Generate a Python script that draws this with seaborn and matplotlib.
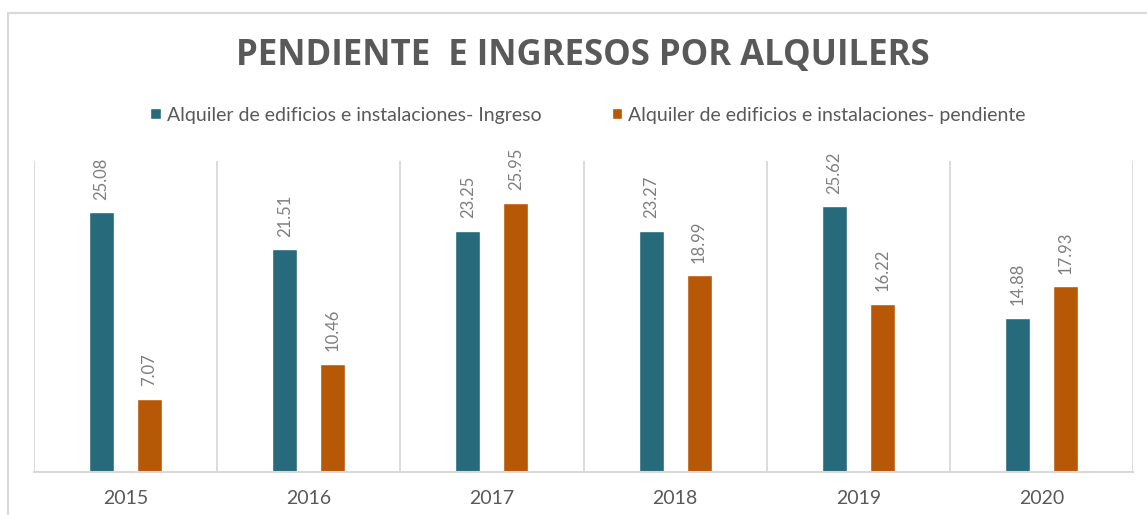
import matplotlib
matplotlib.use("Agg")
import matplotlib.pyplot as plt
from matplotlib.patches import Rectangle
import seaborn as sns
import pandas as pd

years = ["2015", "2016", "2017", "2018", "2019", "2020"]
series_names = ["Alquiler de edificios e instalaciones- Ingreso",
                "Alquiler de edificios e instalaciones- pendiente"]
ingreso = [25.08, 21.51, 23.25, 23.27, 25.62, 14.88]
pendiente = [7.07, 10.46, 25.95, 18.99, 16.22, 17.93]
title = "PENDIENTE  E INGRESOS POR ALQUILERS"

df = pd.DataFrame({
    "year": years * 2,
    "serie": [series_names[0]] * len(years) + [series_names[1]] * len(years),
    "value": ingreso + pendiente,
})

sns.set_theme(style="white")
plt.rcParams["font.family"] = ["Lato", "DejaVu Sans"]

W, H = 1147, 515
fig = plt.figure(figsize=(W / 100, H / 100), dpi=100)
ax = fig.add_axes([34 / W, 43 / H, (1133 - 34) / W, (472 - 161) / H])

palette = {series_names[0]: "#276A7B", series_names[1]: "#B75807"}
sns.barplot(data=df, x="year", y="value", hue="serie", order=years,
            hue_order=series_names, palette=palette, width=0.524, gap=0.48,
            saturation=1, ax=ax, legend=True)

ax.set_ylim(0, 30)
ax.set_xlim(-0.5, len(years) - 0.5)
for c in ax.containers:
    ax.bar_label(c, fmt="%.2f", rotation=90, padding=9, color="#7F7F7F", fontsize=12)

grid_c = "#D9D9D9"
for i in range(len(years) + 1):
    ax.axvline(i - 0.5, color=grid_c, lw=1.3, zorder=0)
for s in ["top", "right", "left"]:
    ax.spines[s].set_visible(False)
ax.spines["bottom"].set_color(grid_c)
ax.spines["bottom"].set_linewidth(1.5)
ax.set_yticks([])
ax.set_xlabel("")
ax.set_ylabel("")
ax.tick_params(axis="x", length=0, pad=13, labelsize=14, labelcolor="#595959")

handles, labels = ax.get_legend_handles_labels()
ax.legend_.remove()
fig.legend(handles, labels, loc="center", bbox_to_anchor=(588 / W, 1 - 115 / H),
           ncol=2, frameon=False, handlelength=0.55, handleheight=0.55,
           handletextpad=0.3, columnspacing=3.6, fontsize=14,
           labelcolor="#595959")

fig.text(583 / W, 1 - 56 / H, title, ha="center", va="center",
         fontsize=25, fontweight="bold", color="#595959", family=["Open Sans", "DejaVu Sans"])

fig.patches.append(Rectangle((8 / W, -0.1), 1.2, 1.1 - 13 / H, transform=fig.transFigure,
                             fill=False, edgecolor=grid_c, lw=1.5))

fig.savefig("out.png", dpi=100)
